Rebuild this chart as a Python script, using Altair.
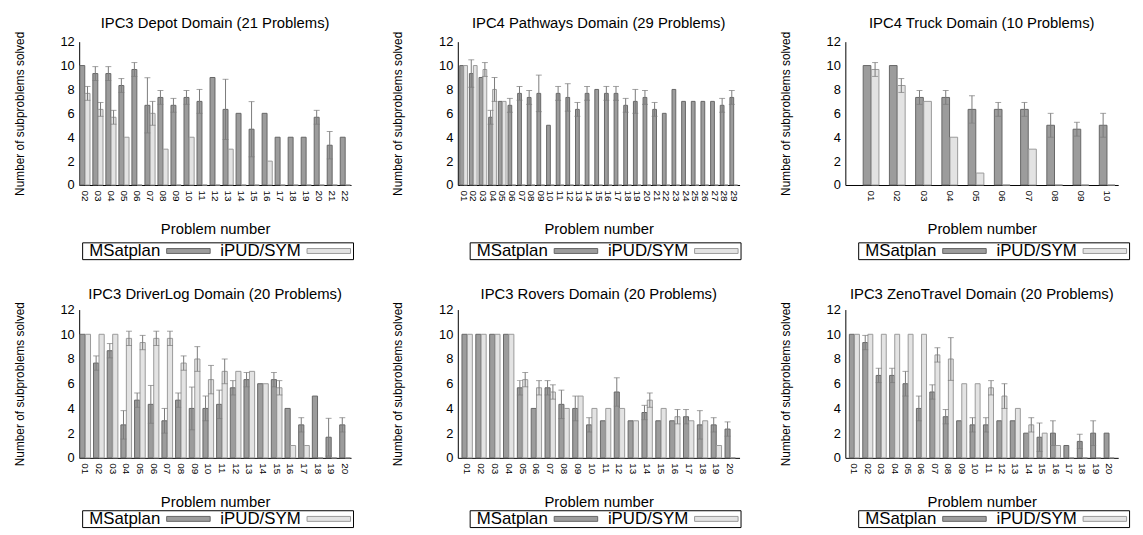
import altair as alt
import pandas as pd

SERIES = ["MSatplan", "iPUD/SYM"]
FILL = ["#9c9c9c", "#e3e3e3"]
EDGE = ["#666666", "#9a9a9a"]
FONT = "Liberation Sans"

# ---- IPC3 Depot (21 problems)
depot_labels = ["02", "03", "04", "05", "06", "07", "08", "09", "10", "11", "12",
                "13", "14", "15", "16", "17", "18", "19", "20", "21", "22"]
depot_msat = [10, 9.33, 9.33, 8.33, 9.67, 6.67, 7.33, 6.67, 7.33, 7, 9,
              6.33, 6, 4.67, 6, 4, 4, 4, 5.67, 3.33, 4]
depot_msat_err = [0, 0.58, 0.58, 0.58, 0.58, 2.31, 0.58, 0.58, 0.58, 1, 0,
                  2.52, 0, 2.31, 0, 0, 0, 0, 0.58, 1.15, 0]
depot_ipud = [7.67, 6.33, 5.67, 4, 0, 6, 3, 0, 4, 0, 0,
              3, 0, 0, 2, 0, 0, 0, 0, 0, 0]
depot_ipud_err = [0.58, 0.58, 0.58, 0, 0, 1, 0, 0, 0, 0, 0,
                  0, 0, 0, 0, 0, 0, 0, 0, 0, 0]

# ---- IPC4 Pathways (29 problems)
path_labels = ["01", "02", "03", "04", "05", "06", "07", "08", "09", "10",
               "11", "12", "13", "14", "15", "16", "17", "18", "19", "20",
               "21", "22", "23", "24", "25", "26", "27", "28", "29"]
path_msat = [10, 9.33, 9, 5.67, 7, 6.67, 7.67, 7.33, 7.67, 5,
             7.67, 7.33, 6.33, 7.67, 8, 7.67, 7.67, 6.67, 7, 7.33,
             6.33, 6, 8, 7, 7, 7, 7, 6.67, 7.33]
path_msat_err = [0, 1.15, 0, 0.58, 0, 0.58, 0.58, 0.58, 1.53, 0,
                 0.58, 1.15, 0.58, 0.58, 0, 0.58, 0.58, 0.58, 1, 0.58,
                 0.58, 0, 0, 0, 0, 0, 0, 0.58, 0.58]
path_ipud = [10, 10, 9.67, 8, 7, 0, 0, 0, 0, 0,
             0, 0, 0, 0, 0, 0, 0, 0, 0, 0,
             0, 0, 0, 0, 0, 0, 0, 0, 0]
path_ipud_err = [0, 0, 0.58, 1, 0, 0, 0, 0, 0, 0,
                 0, 0, 0, 0, 0, 0, 0, 0, 0, 0,
                 0, 0, 0, 0, 0, 0, 0, 0, 0]

# ---- IPC4 Truck (10 problems)
truck_labels = ["01", "02", "03", "04", "05", "06", "07", "08", "09", "10"]
truck_msat = [10, 10, 7.33, 7.33, 6.33, 6.33, 6.33, 5, 4.67, 5]
truck_msat_err = [0, 0, 0.58, 0.58, 1.15, 0.58, 0.58, 1, 0.58, 1]
truck_ipud = [9.67, 8.33, 7, 4, 1, 0, 3, 0, 0, 0]
truck_ipud_err = [0.58, 0.58, 0, 0, 0, 0, 0, 0, 0, 0]

# ---- IPC3 DriverLog (20 problems)
drv_labels = ["01", "02", "03", "04", "05", "06", "07", "08", "09", "10",
              "11", "12", "13", "14", "15", "16", "17", "18", "19", "20"]
drv_msat = [10, 7.67, 8.67, 2.67, 4.67, 4.33, 3, 4.67, 4, 4,
            4.33, 5.67, 6.33, 6, 6.33, 4, 2.67, 5, 1.67, 2.67]
drv_msat_err = [0, 0.58, 0.58, 1.15, 0.58, 1.53, 1, 0.58, 1.73, 1,
                1.15, 0.58, 0.58, 0, 0.58, 0, 0.58, 0, 1.53, 0.58]
drv_ipud = [10, 10, 10, 9.67, 9.33, 9.67, 9.67, 7.67, 8, 6.33,
            7, 7, 7, 6, 5.67, 1, 1, 0, 0, 0]
drv_ipud_err = [0, 0, 0, 0.58, 0.58, 0.58, 0.58, 0.58, 1, 1.15,
                1, 0, 0, 0, 0.58, 0, 0, 0, 0, 0]

# ---- IPC3 Rovers (20 problems)
rov_labels = ["01", "02", "03", "04", "05", "06", "07", "08", "09", "10",
              "11", "12", "13", "14", "15", "16", "17", "18", "19", "20"]
rov_msat = [10, 10, 10, 10, 5.67, 4, 5.67, 4.33, 4, 2.67,
            3, 5.33, 3, 3.67, 3, 3, 3.33, 2.67, 2.67, 2.33]
rov_msat_err = [0, 0, 0, 0, 0.58, 0, 0.58, 1.15, 1, 0.58,
                0, 1.15, 0, 0.58, 0, 0, 0.58, 1.15, 0.58, 0.58]
rov_ipud = [10, 10, 10, 10, 6.33, 5.67, 5.33, 4, 5, 4,
            4, 4, 3, 4.67, 4, 3.33, 3, 3, 1, 0]
rov_ipud_err = [0, 0, 0, 0, 0.58, 0.58, 0.58, 0, 0, 0,
                0, 0, 0, 0.58, 0, 0.58, 0, 0, 0, 0]

# ---- IPC3 ZenoTravel (20 problems)
zeno_labels = ["01", "02", "03", "04", "05", "06", "07", "08", "09", "10",
               "11", "12", "13", "14", "15", "16", "17", "18", "19", "20"]
zeno_msat = [10, 9.33, 6.67, 6.67, 6, 4, 5.33, 3.33, 3, 2.67,
             2.67, 3, 3, 2, 1.67, 2, 1, 1.33, 2, 2]
zeno_msat_err = [0, 0.58, 0.58, 0.58, 1, 1, 0.58, 0.58, 0, 0.58,
                 0.58, 0, 0, 0, 1.15, 1, 0, 0.58, 1, 0]
zeno_ipud = [10, 10, 10, 10, 10, 10, 8.33, 8, 6, 6,
             5.67, 5, 4, 2.67, 2, 1, 0, 0, 0, 0]
zeno_ipud_err = [0, 0, 0, 0, 0, 0, 0.58, 1.73, 0, 0,
                 0.58, 1, 0, 0.58, 0, 0, 0, 0, 0, 0]


def panel(title, labels, msat, msat_err, ipud, ipud_err, width, height, legend_x,
          pad_inner=0.25, pad_outer=0.15, align=0.5):
    rows = []
    for lab, a, ae, b, be in zip(labels, msat, msat_err, ipud, ipud_err):
        rows.append({"problem": lab, "series": SERIES[0], "value": a, "err": ae})
        rows.append({"problem": lab, "series": SERIES[1], "value": b, "err": be})
    df = pd.DataFrame(rows)
    df["lo"] = df["value"] - df["err"]
    df["hi"] = df["value"] + df["err"]
    edf = df[df["err"] > 0]

    x = alt.X("problem:N", sort=labels,
              scale=alt.Scale(paddingInner=pad_inner, paddingOuter=pad_outer, align=align),
              axis=alt.Axis(title="Problem number", labelAngle=90, ticks=False,
                            labelFontSize=10, labelPadding=5, titleFontSize=15,
                            titleFontWeight="normal", titlePadding=21,
                            domainColor="black", labelColor="black", titleColor="black"))
    xo = alt.XOffset("series:N", sort=SERIES, scale=alt.Scale(domain=SERIES, paddingInner=0.05))
    yscale = alt.Scale(domain=[0, 12], nice=False)
    yaxis = alt.Axis(title="Number of subproblems solved", values=[0, 2, 4, 6, 8, 10, 12],
                     grid=False, ticks=False, labelFontSize=13, labelPadding=5,
                     titleFontSize=12, titleFontWeight="normal", titlePadding=34,
                     domainColor="black", labelColor="black", titleColor="black")

    bars = alt.Chart(df).mark_bar(strokeWidth=1).encode(
        x=x, xOffset=xo,
        y=alt.Y("value:Q", scale=yscale, axis=yaxis),
        color=alt.Color("series:N", sort=SERIES,
                        scale=alt.Scale(domain=SERIES, range=FILL),
                        legend=alt.Legend(orient="none", legendX=legend_x, legendY=203,
                                          direction="horizontal", title=None,
                                          strokeColor="black", padding=0,
                                          symbolType="M77,-2.5L121,-2.5L121,2.5L77,2.5Z",
                                          symbolSize=4, symbolStrokeColor="#666666",
                                          symbolStrokeWidth=1, labelFontSize=17,
                                          labelColor="black", labelAlign="right",
                                          labelOffset=62, columnPadding=7,
                                          labelLimit=200)),
        stroke=alt.Stroke("series:N", sort=SERIES,
                          scale=alt.Scale(domain=SERIES, range=EDGE), legend=None),
    )
    rule = alt.Chart(edf).mark_rule(color="#7a7a7a", strokeWidth=1).encode(
        x=x, xOffset=xo, y=alt.Y("lo:Q", scale=yscale, axis=yaxis), y2="hi:Q")
    cap_hi = alt.Chart(edf).mark_tick(color="#7a7a7a", thickness=1, size=6).encode(
        x=x, xOffset=xo, y=alt.Y("hi:Q", scale=yscale, axis=yaxis))
    cap_lo = alt.Chart(edf).mark_tick(color="#7a7a7a", thickness=1, size=6).encode(
        x=x, xOffset=xo, y=alt.Y("lo:Q", scale=yscale, axis=yaxis))

    return alt.layer(bars, rule, cap_hi, cap_lo).properties(
        width=width, height=height,
        title=alt.Title(title, fontSize=15, fontWeight="normal", offset=0,
                        font=FONT, color="black"))


def row(*panels):
    return alt.hconcat(*panels, spacing=38).resolve_scale(
        color="independent", stroke="independent", x="independent", xOffset="independent"
    ).resolve_legend(color="independent", stroke="independent")


p1 = panel("IPC3 Depot Domain (21 Problems)", depot_labels, depot_msat, depot_msat_err,
           depot_ipud, depot_ipud_err, 275, 145, 3, 0.22, 0.05)
p2 = panel("IPC4 Pathways Domain (29 Problems)", path_labels, path_msat, path_msat_err,
           path_ipud, path_ipud_err, 285, 145, 12, 0.2, 0.2)
p3 = panel("IPC4 Truck Domain (10 Problems)", truck_labels, truck_msat, truck_msat_err,
           truck_ipud, truck_ipud_err, 276, 145, 13, 0.4, 0.4, 0.85)
p4 = panel("IPC3 DriverLog Domain (20 Problems)", drv_labels, drv_msat, drv_msat_err,
           drv_ipud, drv_ipud_err, 275, 150, 3, 0.22, 0.05)
p5 = panel("IPC3 Rovers Domain (20 Problems)", rov_labels, rov_msat, rov_msat_err,
           rov_ipud, rov_ipud_err, 285, 150, 12, 0.25, 0.3)
p6 = panel("IPC3 ZenoTravel Domain (20 Problems)", zeno_labels, zeno_msat, zeno_msat_err,
           zeno_ipud, zeno_ipud_err, 276, 150, 13, 0.25, 0.3)

chart = alt.vconcat(row(p1, p2, p3), row(p4, p5, p6), spacing=26).resolve_scale(
    color="independent", stroke="independent", x="independent", xOffset="independent"
).resolve_legend(color="independent", stroke="independent").configure(
    font=FONT
).configure_view(stroke=None)

chart.save("out.html", embed_options={"renderer": "svg", "actions": False})
